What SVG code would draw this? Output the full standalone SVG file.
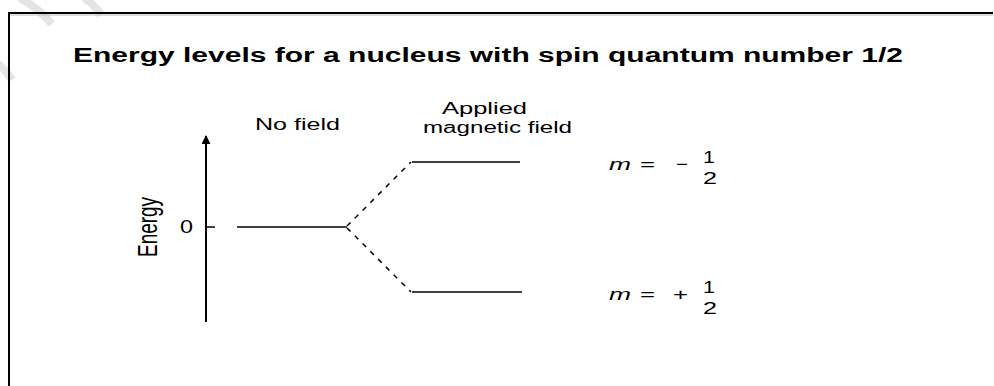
<svg xmlns="http://www.w3.org/2000/svg" width="994" height="386" viewBox="0 0 994 386">
<style>
  .t { font-family: "Liberation Sans", Arial, sans-serif; fill: #000; }
  .lbl { font-size: 16px; }
  .num { font-size: 17px; }
  .ttl { font-size: 20px; font-weight: bold; }
  .mi { font-size: 17px; font-style: italic; }
  .ln { stroke: #000; stroke-width: 1.5; fill: none; }
  .dash { stroke: #000; stroke-width: 1.5; fill: none; stroke-dasharray: 5 6; }
  .wm { stroke: #e4e4e4; stroke-width: 8; fill: none; }
</style>
<defs>
  <marker id="arr" viewBox="0 0 10 10" refX="9" refY="5" markerWidth="9" markerHeight="9" markerUnits="userSpaceOnUse" orient="auto">
    <path d="M0,0 L10,5 L0,10 Z" fill="#000"/>
  </marker>
</defs>
<rect width="994" height="386" fill="#fff"/>
<g id="watermark">
  <path class="wm" d="M20,-2 Q38,8 52,24"/>
  <path class="wm" d="M84,-2 Q94,4 101,15"/>
  <path class="wm" d="M-2,64 Q6,70 12,80"/>
</g>
<g id="frame">
  <path d="M9,386 V13 H993" stroke="#000" stroke-width="2" fill="none"/>
  <line x1="10" y1="15" x2="993" y2="15" stroke="#bbb" stroke-width="1"/>
</g>
<g id="title">
  <text class="t ttl" x="73" y="62" textLength="830" lengthAdjust="spacingAndGlyphs">Energy levels for a nucleus with spin quantum number 1/2</text>
</g>
<g id="axis">
  <line x1="206" y1="322" x2="206" y2="136" stroke="#000" stroke-width="2" marker-end="url(#arr)"/>
  <line class="ln" x1="206" y1="227" x2="215" y2="227"/>
  <text class="t" font-size="18" x="180" y="233" textLength="13" lengthAdjust="spacingAndGlyphs">0</text>
  <text class="t" font-size="18" text-anchor="middle" transform="translate(157,227) rotate(-90) scale(1,1.5)" textLength="60" lengthAdjust="spacingAndGlyphs">Energy</text>
</g>
<g id="no-field">
  <text class="t lbl" x="255" y="130" textLength="85" lengthAdjust="spacingAndGlyphs">No field</text>
  <line class="ln" x1="237" y1="227" x2="347" y2="227"/>
</g>
<g id="applied-field">
  <text class="t lbl" x="442" y="114" textLength="85" lengthAdjust="spacingAndGlyphs">Applied</text>
  <text class="t lbl" x="423" y="133" textLength="149" lengthAdjust="spacingAndGlyphs">magnetic field</text>
</g>
<g id="level-upper">
  <line class="ln" x1="412" y1="162" x2="520" y2="162"/>
  <text class="t mi" x="609" y="170" textLength="22" lengthAdjust="spacingAndGlyphs">m</text>
  <text class="t num" x="640" y="170" textLength="15" lengthAdjust="spacingAndGlyphs">=</text>
  <text class="t num" x="676" y="170" textLength="12" lengthAdjust="spacingAndGlyphs">−</text>
  <text class="t num" x="703" y="163" textLength="12" lengthAdjust="spacingAndGlyphs">1</text>
  <text class="t num" x="703" y="184" textLength="14" lengthAdjust="spacingAndGlyphs">2</text>
</g>
<g id="level-lower">
  <line class="ln" x1="412" y1="292" x2="522" y2="292"/>
  <text class="t mi" x="609" y="300" textLength="22" lengthAdjust="spacingAndGlyphs">m</text>
  <text class="t num" x="640" y="300" textLength="15" lengthAdjust="spacingAndGlyphs">=</text>
  <text class="t num" x="673" y="300" textLength="15" lengthAdjust="spacingAndGlyphs">+</text>
  <text class="t num" x="703" y="293" textLength="12" lengthAdjust="spacingAndGlyphs">1</text>
  <text class="t num" x="703" y="314" textLength="14" lengthAdjust="spacingAndGlyphs">2</text>
</g>
<g id="connectors">
  <line class="dash" x1="347" y1="226" x2="411" y2="162"/>
  <line class="dash" x1="347" y1="228" x2="411" y2="292"/>
</g>
</svg>
